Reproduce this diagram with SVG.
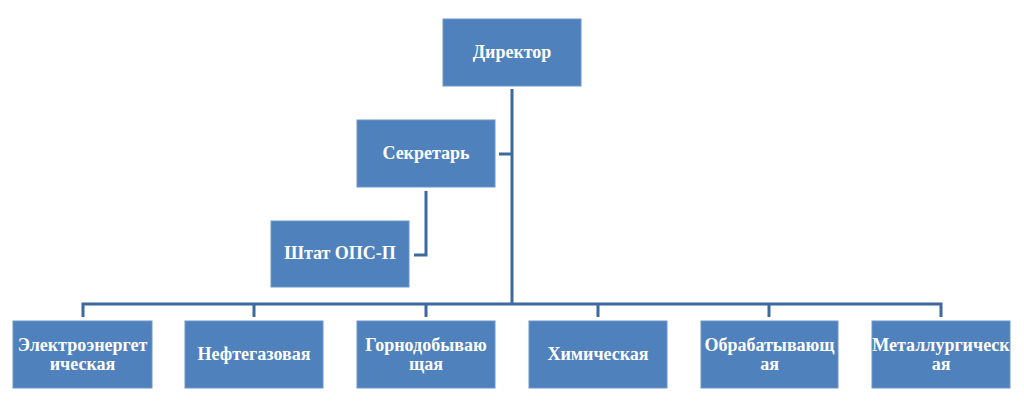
<svg xmlns="http://www.w3.org/2000/svg" width="1024" height="409" viewBox="0 0 1024 409">
<style>
.box{fill:#4F81BD;stroke:#6C95C8;stroke-width:1}
.t{font-family:"Liberation Serif","Times New Roman",serif;font-weight:bold;font-size:18px;fill:#FFFFFF;text-anchor:middle}
.ln{fill:none;stroke:#3D6A9E;stroke-width:3;stroke-linecap:butt;stroke-linejoin:miter}
</style>
<rect width="1024" height="409" fill="#FFFFFF"/>
<g id="connectors">
<path class="ln" d="M512,89 V304"/>
<path class="ln" d="M499,154 H512"/>
<path class="ln" d="M426,191 V255 H414"/>
<path class="ln" d="M83,317 V304 H941 V317"/>
<path class="ln" d="M254,304 V317"/>
<path class="ln" d="M426,304 V317"/>
<path class="ln" d="M598,304 V317"/>
<path class="ln" d="M769,304 V317"/>
</g>
<g id="director"><rect class="box" x="443" y="19" width="138" height="67"/><text class="t" x="512" y="58">Директор</text></g>
<g id="secretary"><rect class="box" x="357" y="120" width="138" height="67"/><text class="t" x="426" y="159">Секретарь</text></g>
<g id="staff"><rect class="box" x="271" y="221" width="138" height="66"/><text class="t" x="340" y="259">Штат ОПС-П</text></g>
<g id="n1"><rect class="box" x="13" y="321" width="139" height="67"/><text class="t" x="82.5" y="351">Электроэнергет</text><text class="t" x="82.5" y="370">ическая</text></g>
<g id="n2"><rect class="box" x="185" y="321" width="138" height="67"/><text class="t" x="254" y="360">Нефтегазовая</text></g>
<g id="n3"><rect class="box" x="357" y="321" width="138" height="67"/><text class="t" x="426" y="351">Горнодобываю</text><text class="t" x="426" y="370">щая</text></g>
<g id="n4"><rect class="box" x="529" y="321" width="138" height="67"/><text class="t" x="598" y="360">Химическая</text></g>
<g id="n5"><rect class="box" x="701" y="321" width="137" height="67"/><text class="t" x="769.5" y="351">Обрабатывающ</text><text class="t" x="769.5" y="370">ая</text></g>
<g id="n6"><rect class="box" x="872" y="321" width="138" height="67"/><text class="t" x="941" y="351">Металлургическ</text><text class="t" x="941" y="370">ая</text></g>
</svg>
